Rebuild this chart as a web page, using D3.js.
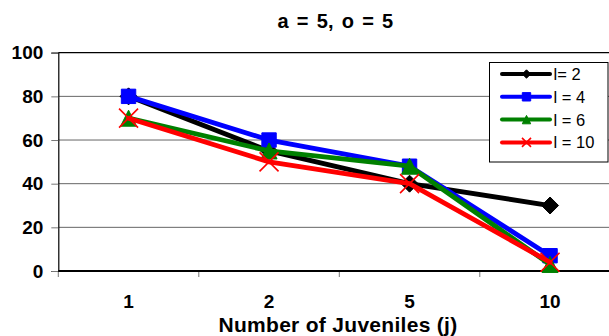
<!DOCTYPE html>
<html>
<head>
<meta charset="utf-8">
<script src="https://cdn.jsdelivr.net/npm/d3@7"></script>
<style>
  html, body { margin: 0; padding: 0; background: #fff; overflow: hidden; }
  svg { display: block; }
  text { font-family: "Liberation Sans", Arial, Helvetica, sans-serif; }
</style>
</head>
<body>
<svg id="chart" width="609" height="336"></svg>
<script>
// Categories (number of juveniles) and y-axis ticks
const categories = ["1", "2", "5", "10"];
const yTicks = [0, 20, 40, 60, 80, 100];

// Series values, one per l
const seriesNames = ["l= 2", "l = 4", "l = 6", "l = 10"];
const valuesL2  = [80, 55, 40, 30];
const valuesL4  = [80, 60, 48, 7];
const valuesL6  = [70, 55, 48, 3];
const valuesL10 = [70, 50, 40, 4];
const seriesColors = ["#000000", "#0000ff", "#008000", "#ff0000"];
const seriesMarkers = ["diamond", "square", "triangle", "cross"];

const titleText = "a = 5, o = 5";
const xTitleText = "Number of Juveniles (j)";

const series = [valuesL2, valuesL4, valuesL6, valuesL10].map((vals, i) => ({
  name: seriesNames[i], values: vals, color: seriesColors[i], marker: seriesMarkers[i]
}));

const svg = d3.select("#chart");
const plot = { left: 58.3, top: 52.7, right: 620.3, bottom: 271 };

const x = d3.scaleBand().domain(categories).range([plot.left, plot.right]);
const y = d3.scaleLinear().domain([0, 100]).range([plot.bottom, plot.top]);

// Title
svg.append("text")
  .attr("x", 335.5).attr("y", 27.5)
  .attr("text-anchor", "middle")
  .attr("font-size", 20).attr("font-weight", "bold")
  .attr("letter-spacing", 0.3)
  .attr("word-spacing", 2)
  .text(titleText);

// Horizontal gridlines
svg.append("g")
  .selectAll("line")
  .data(yTicks.filter(t => t > 0 && t < 100))
  .join("line")
  .attr("x1", plot.left).attr("x2", plot.right)
  .attr("y1", d => y(d)).attr("y2", d => y(d))
  .attr("stroke", "#666").attr("stroke-width", 1);

// Plot frame top edge
svg.append("line")
  .attr("x1", plot.left).attr("x2", plot.right)
  .attr("y1", plot.top).attr("y2", plot.top)
  .attr("stroke", "#000").attr("stroke-width", 1.2);

// Y axis
const yAxis = svg.append("g")
  .attr("transform", `translate(${plot.left},0)`)
  .call(d3.axisLeft(y).tickValues(yTicks).tickSize(7).tickPadding(8));
yAxis.select(".domain").attr("stroke", "#000").attr("stroke-width", 1.2);
yAxis.selectAll(".tick line").attr("stroke", "#777");
yAxis.selectAll(".tick text")
  .attr("font-family", "Liberation Sans, Arial, sans-serif")
  .attr("font-size", 19).attr("font-weight", "bold").attr("fill", "#000");

// X axis: ticks at category boundaries, labels at band centres
const xAxisG = svg.append("g").attr("transform", `translate(0,${plot.bottom})`);
xAxisG.append("line")
  .attr("x1", plot.left).attr("x2", plot.right)
  .attr("stroke", "#000").attr("stroke-width", 2.2);
xAxisG.selectAll("line.tick")
  .data(categories)
  .join("line")
  .attr("class", "tick")
  .attr("x1", d => x(d)).attr("x2", d => x(d))
  .attr("y1", 1).attr("y2", 6)
  .attr("stroke", "#777");
xAxisG.selectAll("text.cat")
  .data(categories)
  .join("text")
  .attr("class", "cat")
  .attr("x", d => x(d) + x.bandwidth() / 2)
  .attr("y", 37)
  .attr("text-anchor", "middle")
  .attr("font-size", 19).attr("font-weight", "bold")
  .text(d => d);

// X axis title
svg.append("text")
  .attr("x", 338).attr("y", 331.5)
  .attr("text-anchor", "middle")
  .attr("font-size", 21).attr("font-weight", "bold")
  .attr("letter-spacing", 0.3)
  .text(xTitleText);

// Marker generator
function markerPath(kind, s) {
  if (kind === "diamond") return `M0,${-s}L${s},0L0,${s}L${-s},0Z`;
  if (kind === "square") return `M${-s},${-s}H${s}V${s}H${-s}Z`;
  if (kind === "triangle") return `M0,${-s}L${s},${s}L${-s},${s}Z`;
  return `M${-s},${-s}L${s},${s}M${s},${-s}L${-s},${s}`;
}
function drawMarker(g, kind, color, s) {
  const p = g.append("path").attr("d", markerPath(kind, s));
  if (kind === "cross") {
    p.attr("fill", "none").attr("stroke", color).attr("stroke-width", 1.6);
  } else {
    p.attr("fill", color).attr("stroke", color).attr("stroke-width", 1);
  }
}

const line = d3.line()
  .x((d, i) => x(categories[i]) + x.bandwidth() / 2)
  .y(d => y(d));

const markerSize = { diamond: 8.5, square: 7.2, triangle: 8, cross: 9.5 };

series.forEach(s => {
  const g = svg.append("g");
  g.append("path")
    .datum(s.values)
    .attr("d", line)
    .attr("fill", "none")
    .attr("stroke", s.color)
    .attr("stroke-width", 4.8)
    .attr("stroke-linejoin", "round")
    .attr("stroke-linecap", "round");
  s.values.forEach((v, i) => {
    const mg = g.append("g")
      .attr("transform", `translate(${x(categories[i]) + x.bandwidth() / 2},${y(v)})`);
    drawMarker(mg, s.marker, s.color, markerSize[s.marker]);
  });
});

// Legend
const legend = svg.append("g");
legend.append("rect")
  .attr("x", 489.5).attr("y", 62.5)
  .attr("width", 118.5).attr("height", 99.5)
  .attr("fill", "#fff").attr("stroke", "#000").attr("stroke-width", 1);
series.forEach((s, i) => {
  const ly = 74 + i * 22.8;
  const row = legend.append("g").attr("transform", `translate(0,${ly})`);
  row.append("line")
    .attr("x1", 502).attr("x2", 550)
    .attr("stroke", s.color).attr("stroke-width", 4)
    .attr("stroke-linecap", "round");
  const mg = row.append("g").attr("transform", "translate(526.5,0)");
  drawMarker(mg, s.marker, s.color, s.marker === "cross" ? 4.5 : 4.2);
  row.append("text")
    .attr("x", 553.5).attr("y", 6)
    .attr("font-size", 16.5)
    .text(s.name);
});
</script>
</body>
</html>
